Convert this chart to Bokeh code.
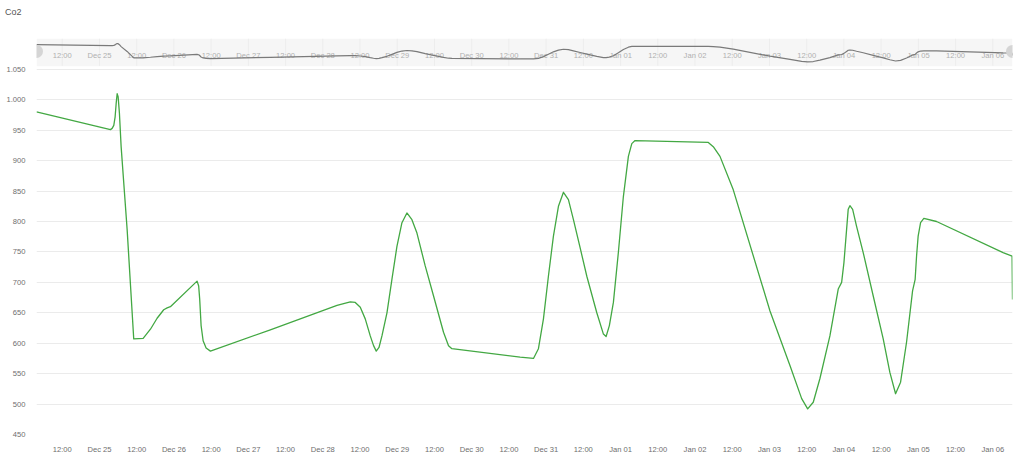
import pandas as pd
from bokeh.plotting import figure
from bokeh.models import ColumnDataSource, FixedTicker, Range1d, Div
from bokeh.layouts import column
from bokeh.embed import file_html
from bokeh.resources import INLINE
from bokeh.core.properties import value

title_text = "Co2"

times = [
    "2023-12-24 03:42", "2023-12-25 03:32", "2023-12-25 04:05", "2023-12-25 04:37",
    "2023-12-25 05:03", "2023-12-25 05:23", "2023-12-25 05:42", "2023-12-25 06:01",
    "2023-12-25 06:26", "2023-12-25 06:59", "2023-12-25 08:55", "2023-12-25 11:03",
    "2023-12-25 14:05", "2023-12-25 16:26", "2023-12-25 18:35", "2023-12-25 20:43",
    "2023-12-25 21:49", "2023-12-25 22:52", "2023-12-26 07:28", "2023-12-26 07:59",
    "2023-12-26 08:19", "2023-12-26 08:46", "2023-12-26 09:25", "2023-12-26 10:23",
    "2023-12-26 11:46", "2023-12-27 07:05", "2023-12-28 04:35", "2023-12-28 08:52",
    "2023-12-28 10:28", "2023-12-28 12:05", "2023-12-28 13:41", "2023-12-28 15:18",
    "2023-12-28 16:22", "2023-12-28 17:14", "2023-12-28 18:07", "2023-12-28 19:04",
    "2023-12-28 20:41", "2023-12-28 22:17", "2023-12-28 23:54", "2023-12-29 01:31",
    "2023-12-29 03:07", "2023-12-29 04:44", "2023-12-29 06:21", "2023-12-29 09:01",
    "2023-12-29 11:41", "2023-12-29 14:55", "2023-12-29 16:32", "2023-12-29 17:37",
    "2023-12-30 15:37", "2023-12-30 19:55", "2023-12-30 21:31", "2023-12-30 23:08",
    "2023-12-31 00:44", "2023-12-31 02:21", "2023-12-31 03:58", "2023-12-31 05:35",
    "2023-12-31 07:11", "2023-12-31 08:48", "2023-12-31 10:57", "2023-12-31 13:07",
    "2023-12-31 16:20", "2023-12-31 18:28", "2023-12-31 19:20", "2023-12-31 20:23",
    "2023-12-31 21:41", "2023-12-31 23:17", "2024-01-01 00:54", "2024-01-01 02:31",
    "2024-01-01 03:37", "2024-01-01 04:40", "2024-01-02 04:17", "2024-01-02 05:53",
    "2024-01-02 08:03", "2024-01-02 12:20", "2024-01-03 00:10", "2024-01-03 06:38",
    "2024-01-03 10:23", "2024-01-03 12:19", "2024-01-03 14:07", "2024-01-03 16:16",
    "2024-01-03 19:29", "2024-01-03 22:10", "2024-01-03 23:16", "2024-01-04 00:00",
    "2024-01-04 00:52", "2024-01-04 01:23", "2024-01-04 01:56", "2024-01-04 02:49",
    "2024-01-04 04:05", "2024-01-04 06:13", "2024-01-04 09:26", "2024-01-04 12:40",
    "2024-01-04 14:49", "2024-01-04 16:39", "2024-01-04 18:16", "2024-01-04 20:12",
    "2024-01-04 22:08", "2024-01-04 22:58", "2024-01-04 23:25", "2024-01-04 23:56",
    "2024-01-05 00:43", "2024-01-05 01:46", "2024-01-05 05:52", "2024-01-06 03:19",
    "2024-01-06 06:13", "2024-01-06 06:21",
]
co2 = [
    980, 951, 953, 958,
    972, 994, 1010, 1005,
    978, 923, 787, 607,
    608, 623, 641, 655,
    658, 660, 702, 694,
    672, 629, 604, 592,
    587, 622, 662, 668,
    667, 659, 640, 612,
    596, 587, 593, 612,
    650, 705, 759, 798,
    814, 803, 781, 727,
    678, 618, 596, 591,
    577, 575, 591, 640,
    710, 776, 825, 848,
    836, 803, 757, 710,
    650, 615, 611, 629,
    667, 749, 841, 907,
    928, 933, 930, 923,
    907, 852, 653, 563,
    509, 492, 503, 542,
    612, 689, 700, 732,
    787, 820, 826, 820,
    792, 749, 678, 607,
    552, 517, 536, 602,
    686, 705, 743, 776,
    798, 805, 800, 749,
    743, 672,
]

tick_times = [
    "2023-12-24 12:00", "2023-12-25 00:00", "2023-12-25 12:00", "2023-12-26 00:00",
    "2023-12-26 12:00", "2023-12-27 00:00", "2023-12-27 12:00", "2023-12-28 00:00",
    "2023-12-28 12:00", "2023-12-29 00:00", "2023-12-29 12:00", "2023-12-30 00:00",
    "2023-12-30 12:00", "2023-12-31 00:00", "2023-12-31 12:00", "2024-01-01 00:00",
    "2024-01-01 12:00", "2024-01-02 00:00", "2024-01-02 12:00", "2024-01-03 00:00",
    "2024-01-03 12:00", "2024-01-04 00:00", "2024-01-04 12:00", "2024-01-05 00:00",
    "2024-01-05 12:00", "2024-01-06 00:00",
]
tick_labels = [
    "12:00", "Dec 25", "12:00", "Dec 26", "12:00", "Dec 27", "12:00", "Dec 28",
    "12:00", "Dec 29", "12:00", "Dec 30", "12:00", "Dec 31", "12:00", "Jan 01",
    "12:00", "Jan 02", "12:00", "Jan 03", "12:00", "Jan 04", "12:00", "Jan 05",
    "12:00", "Jan 06",
]
y_ticks = [450, 500, 550, 600, 650, 700, 750, 800, 850, 900, 950, 1000, 1050]
y_tick_labels = ["450", "500", "550", "600", "650", "700", "750", "800", "850",
                 "900", "950", "1.000", "1.050"]

FONT = "Liberation Sans"
LAB = "7.6px"

t = pd.to_datetime(times)
src = ColumnDataSource(dict(t=t, v=co2))
tt = pd.to_datetime(tick_times)
tick_ms = [int(x.value // 10**6) for x in tt]

p = figure(width=1024, height=432, x_axis_type="datetime",
           x_range=Range1d(t[0], t[-1]), y_range=Range1d(450, 1100.7),
           output_backend="svg", toolbar_location=None,
           min_border_left=36, min_border_right=12, min_border_top=14,
           min_border_bottom=20)
p.extra_y_ranges = {"nav": Range1d(-9993, 1151)}
p.outline_line_color = None
p.background_fill_color = "white"
p.border_fill_color = "white"

# slider band
band = ColumnDataSource(dict(l=[t[0]], r=[t[-1]], b=[367], tp=[1151]))
p.quad(left="l", right="r", bottom="b", top="tp", source=band,
       fill_color="#f6f6f6", line_color=None, y_range_name="nav")
tsrc = ColumnDataSource(dict(t=tt, lab=tick_labels, y0=[380] * len(tt),
                             y1=[1151] * len(tt), ym=[675] * len(tt)))
p.segment(x0="t", x1="t", y0="y0", y1="y1", source=tsrc, line_color="#ededed",
          line_width=1, y_range_name="nav")
p.text(x="t", y="ym", text="lab", source=tsrc, text_font=value(FONT),
       text_font_size=LAB, text_color="#b0b0b0", text_align="center",
       text_baseline="middle", y_range_name="nav")
p.line(x="t", y="v", source=src, line_color="#7a7a7a", line_width=1.2,
       y_range_name="nav")
hsrc = ColumnDataSource(dict(t=[t[0], t[-1]], y=[787, 787]))
p.scatter(x="t", y="y", source=hsrc, size=13, fill_color="#d5d5d5",
          line_color=None, y_range_name="nav")

# main line
p.line(x="t", y="v", source=src, line_color="#43a843", line_width=1.3,
       line_join="round")

p.xgrid.grid_line_color = None
p.ygrid.grid_line_color = "#ebebeb"
p.ygrid.ticker = FixedTicker(ticks=y_ticks)

p.yaxis.ticker = FixedTicker(ticks=y_ticks)
p.yaxis.major_label_overrides = dict(zip(y_ticks, y_tick_labels))
p.yaxis.axis_line_color = None
p.yaxis.major_tick_line_color = None
p.yaxis.minor_tick_line_color = None
p.yaxis.major_label_standoff = 5
p.yaxis.major_label_text_font = FONT
p.yaxis.major_label_text_font_size = LAB
p.yaxis.major_label_text_color = "#6e6e6e"

p.xaxis.ticker = FixedTicker(ticks=tick_ms)
p.xaxis.major_label_overrides = dict(zip(tick_ms, tick_labels))
p.xaxis.axis_line_color = None
p.xaxis.major_tick_line_color = None
p.xaxis.minor_tick_line_color = None
p.xaxis.major_label_standoff = 4
p.xaxis.major_label_text_font = FONT
p.xaxis.major_label_text_font_size = LAB
p.xaxis.major_label_text_color = "#6e6e6e"

title = Div(text=title_text, width=200, height=24, margin=(0, 0, 0, 0),
            styles={"font-family": FONT, "font-size": "9px", "color": "#555555",
                    "line-height": "12px", "padding-left": "5px",
                    "padding-top": "6px"})

layout = column(title, p, spacing=0)
open("out.html", "w").write(file_html(layout, INLINE))
